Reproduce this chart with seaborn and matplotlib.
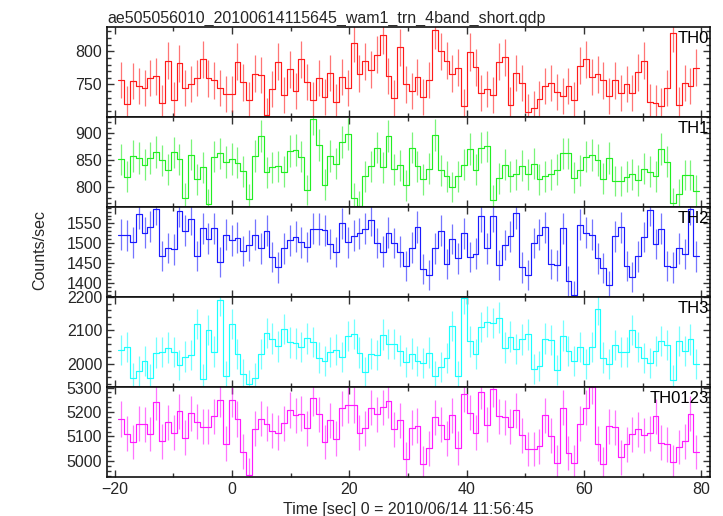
import numpy as np
import matplotlib
matplotlib.use("Agg")
import matplotlib.pyplot as plt
from matplotlib.ticker import MultipleLocator
import seaborn as sns

# ------------------------------------------------------
# Light curve data (counts/sec), 100 time bins per band
# ------------------------------------------------------
t_start = -19.35   # left edge of first bin [sec]
bin_width = 0.99   # [sec]

th0 = [757, 721, 755, 748, 745, 760, 762, 722, 786, 726,
       782, 744, 751, 760, 788, 759, 756, 745, 735, 736,
       784, 753, 726, 766, 764, 703, 743, 784, 734, 773,
       740, 788, 754, 727, 760, 731, 767, 724, 761, 745,
       812, 766, 785, 772, 795, 824, 763, 730, 806, 750,
       740, 761, 731, 757, 832, 800, 786, 766, 775, 717,
       799, 776, 737, 743, 734, 784, 791, 719, 767, 752,
       709, 714, 728, 748, 752, 738, 732, 747, 727, 778,
       788, 761, 765, 756, 733, 756, 737, 751, 737, 768,
       786, 724, 722, 718, 745, 828, 719, 752, 748, 775]

th1 = [851, 819, 857, 854, 841, 854, 865, 849, 832, 864,
       851, 779, 860, 814, 836, 769, 856, 862, 846, 852,
       845, 829, 778, 857, 895, 827, 836, 838, 828, 866,
       868, 856, 794, 926, 877, 804, 857, 843, 884, 898,
       780, 765, 820, 838, 873, 836, 895, 833, 840, 803,
       873, 838, 814, 834, 896, 831, 820, 800, 820, 841,
       870, 832, 873, 875, 776, 816, 841, 820, 823, 839,
       823, 843, 814, 820, 823, 832, 862, 862, 817, 831,
       856, 859, 850, 815, 854, 811, 811, 819, 823, 812,
       834, 828, 820, 871, 847, 771, 787, 822, 822, 793]

th2 = [1522, 1520, 1502, 1575, 1527, 1542, 1586, 1468, 1488, 1485,
       1581, 1532, 1560, 1468, 1538, 1512, 1538, 1452, 1521, 1508,
       1514, 1481, 1495, 1522, 1487, 1532, 1466, 1439, 1487, 1508,
       1517, 1502, 1491, 1537, 1536, 1533, 1498, 1478, 1550, 1502,
       1519, 1525, 1537, 1558, 1501, 1479, 1527, 1501, 1479, 1443,
       1489, 1541, 1436, 1420, 1487, 1532, 1447, 1511, 1462, 1525,
       1465, 1474, 1568, 1487, 1568, 1446, 1496, 1518, 1577, 1439,
       1420, 1501, 1522, 1540, 1447, 1444, 1538, 1405, 1369, 1547,
       1527, 1522, 1462, 1438, 1394, 1518, 1540, 1443, 1415, 1467,
       1516, 1584, 1498, 1537, 1442, 1439, 1487, 1473, 1586, 1467]

th3 = [2042, 2051, 1958, 1978, 2009, 1957, 2034, 2035, 2049, 2035,
       1996, 2022, 2027, 2119, 1956, 2101, 2037, 2191, 1965, 2119,
       2029, 1969, 1939, 1959, 2029, 2092, 2075, 2052, 2104, 2064,
       2061, 2050, 2076, 2065, 2019, 2009, 2035, 2043, 2021, 2083,
       2089, 2034, 1975, 2031, 2026, 2087, 2059, 2059, 2040, 2006,
       2031, 2009, 2002, 2034, 1964, 1990, 2017, 2113, 1964, 2195,
       2067, 2029, 2110, 2126, 2122, 2137, 2049, 2081, 2044, 2073,
       2088, 1985, 1994, 2075, 2071, 1981, 2084, 2038, 2009, 2050,
       1999, 2050, 2164, 2019, 1999, 2056, 2036, 2035, 2101, 2050,
       2018, 2003, 2039, 2069, 2057, 1952, 2068, 2039, 2073, 2000]

th0123 = [5171, 5112, 5077, 5152, 5150, 5110, 5241, 5081, 5157, 5115,
          5203, 5095, 5194, 5161, 5140, 5140, 5183, 5250, 5070, 5250,
          5171, 5038, 4942, 5131, 5173, 5152, 5123, 5115, 5154, 5208,
          5186, 5193, 5134, 5256, 5191, 5077, 5166, 5091, 5215, 5229,
          5229, 5116, 5133, 5218, 5190, 5219, 5246, 5129, 5166, 5007,
          5136, 5144, 4989, 5052, 5178, 5148, 5091, 5186, 5053, 5274,
          5197, 5115, 5283, 5148, 5295, 5182, 5178, 5140, 5207, 5105,
          5049, 5049, 5060, 5186, 5103, 4993, 5217, 5032, 4993, 5152,
          5217, 5304, 5071, 4987, 5141, 5137, 5014, 5068, 5108, 5130,
          5105, 5113, 5183, 5074, 5068, 4994, 5057, 5081, 5193, 5036]

bands = ["TH0", "TH1", "TH2", "TH3", "TH0123"]
series = [th0, th1, th2, th3, th0123]
colors = ["#ff1a1a", "#22ee22", "#1a1aff", "#1affff", "#ff1aff"]
ylims = [(701, 837), (763, 930), (1365, 1592), (1932, 2200), (4935, 5303)]
major_y = [50, 50, 50, 100, 100]
minor_y = [10, 10, 10, 20, 20]

# ------------------------------------------------------
# Plot
# ------------------------------------------------------
sns.set_theme(style="ticks")
plt.rcParams["font.family"] = ["Liberation Sans", "DejaVu Sans"]

fig, axes = plt.subplots(5, 1, sharex=True, figsize=(7.23, 5.16), dpi=100)
fig.subplots_adjust(left=0.148, right=0.982, top=0.948, bottom=0.076, hspace=0)

n_bins = len(th0)
edges = t_start + bin_width * np.arange(n_bins + 1)
centers = edges[:-1] + bin_width / 2

for ax, name, vals, col, ylim, my, mny in zip(axes, bands, series, colors,
                                              ylims, major_y, minor_y):
    vals = np.array(vals, dtype=float)
    err = np.sqrt(vals)
    # histogram-style step line
    sns.lineplot(x=edges, y=np.append(vals, vals[-1]), ax=ax, color=col,
                 drawstyle="steps-post", linewidth=0.85, estimator=None,
                 sort=False)
    ax.errorbar(centers, vals, yerr=err, fmt="none", ecolor=col,
                elinewidth=0.9, alpha=0.6)
    ax.set_ylim(*ylim)
    ax.set_xlim(-21.3, 81.5)
    ax.yaxis.set_major_locator(MultipleLocator(my))
    ax.yaxis.set_minor_locator(MultipleLocator(mny))
    ax.xaxis.set_major_locator(MultipleLocator(20))
    ax.xaxis.set_minor_locator(MultipleLocator(10))
    ax.tick_params(which="both", direction="in", top=True, right=True,
                   labelsize=11.5, width=1.0, color="#333333")
    ax.tick_params(which="major", length=5)
    ax.tick_params(which="minor", length=3)
    for sp in ax.spines.values():
        sp.set_linewidth(1.2)
        sp.set_color("#111111")
    ax.set_ylabel("")
    ax.text(0.998, 0.95, name, transform=ax.transAxes, ha="right", va="top",
            fontsize=12, color="black")

axes[0].set_title("ae505056010_20100614115645_wam1_trn_4band_short.qdp",
                  loc="left", fontsize=11.5, pad=3)
axes[-1].set_xlabel("Time [sec] 0 = 2010/06/14 11:56:45", fontsize=11.5,
                    labelpad=4)
fig.text(0.055, 0.515, "Counts/sec", rotation=90, ha="center", va="center",
         fontsize=11.5)

plt.savefig("out.png", dpi=100)
